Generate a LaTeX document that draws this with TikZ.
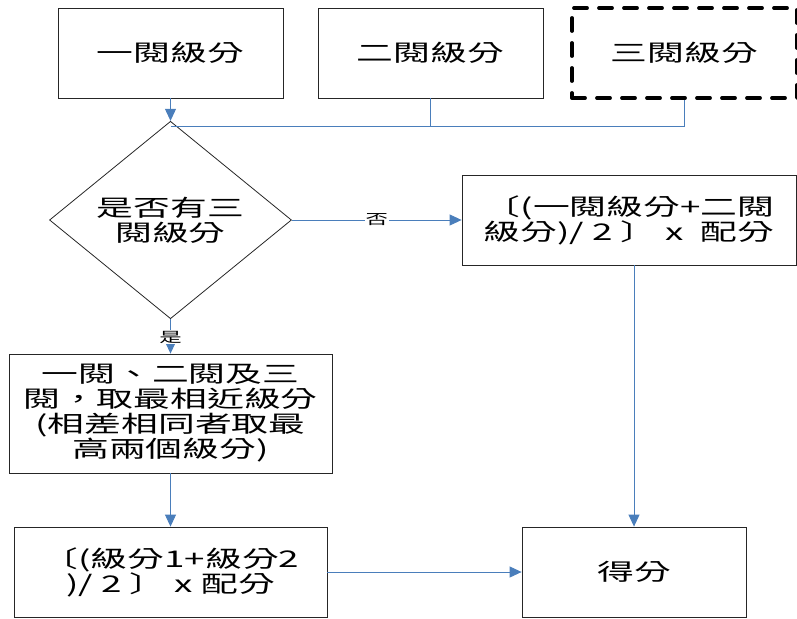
\documentclass[tikz,border=0pt]{standalone}
\usepackage{fontspec}
\newfontfamily\cjk[FakeStretch=1.6]{Noto Sans CJK TC}
\usetikzlibrary{positioning,shapes.geometric,arrows.meta}
\definecolor{lblue}{HTML}{4A7EBB}
\tikzset{fbox/.style={draw=black!85, line width=0.8pt, minimum width=225pt, minimum height=90pt, inner sep=2pt, align=center, font=\cjk\fontsize{23}{25}\selectfont}}
\tikzset{dbox/.style={fbox, draw=black, line width=3.8pt, dash pattern=on 13pt off 12pt, line cap=round}}
\tikzset{ask/.style={fbox, diamond, minimum width=242pt, minimum height=154pt, inner sep=1pt}}
\tikzset{lnk/.style={draw=lblue, line width=0.9pt}}
\tikzset{arr/.style={lnk, -{Triangle[length=12pt,width=11pt]}}}
\tikzset{lbl/.style={fill=white, inner sep=1pt, font=\cjk\fontsize{14}{14}\selectfont}}

\begin{document}
\begin{tikzpicture}[x=1pt, y=-1pt]
   \useasboundingbox (0,0) rectangle (797,618);
       \node[fbox] (A1) at (170.5,53) {一閱級分};
       \node[fbox] (A2) at (430.5,53) {二閱級分};
       \node[dbox] (A3) at (684.5,53) {三閱級分};
       \coordinate (J) at (170.5,126);
       \node[ask] (D) at (170.5,220) {是否有三\\閱級分};
       \node[fbox, minimum width=334pt] (N) at (629,220)
           {〔(一閱級分+二閱\\級分)/ 2 〕 x\ \ 配分};
       \node[fbox, minimum width=323pt, minimum height=119pt] (B) at (170.5,413.5)
           {一閱、二閱及三\\閱，取最相近級分\\(相差相同者取最\\高兩個級分)};
       \node[fbox, minimum width=313pt] (C) at (170.5,572)
           {〔(級分1+級分2\\)/ 2 〕 x 配分};
       \node[fbox, minimum width=224pt] (S) at (634,572) {得分};
       % merge of the three grades
       \draw[arr] (A1) -- (D);
       \draw[lnk] (A2.south) |- (J);
       \draw[lnk] (A3.south) |- (J);
       \draw[arr] (D) --
           node[lbl]{否} (N);
       \draw[arr] (D) --
           node[lbl, pos=0.52]{是} (B);
       \draw[arr] (B) -- (C);
       \draw[arr] (C) -- (S);
       \draw[arr] (S.north |- N.south) -- (S.north);
   \end{tikzpicture}
\end{document}
